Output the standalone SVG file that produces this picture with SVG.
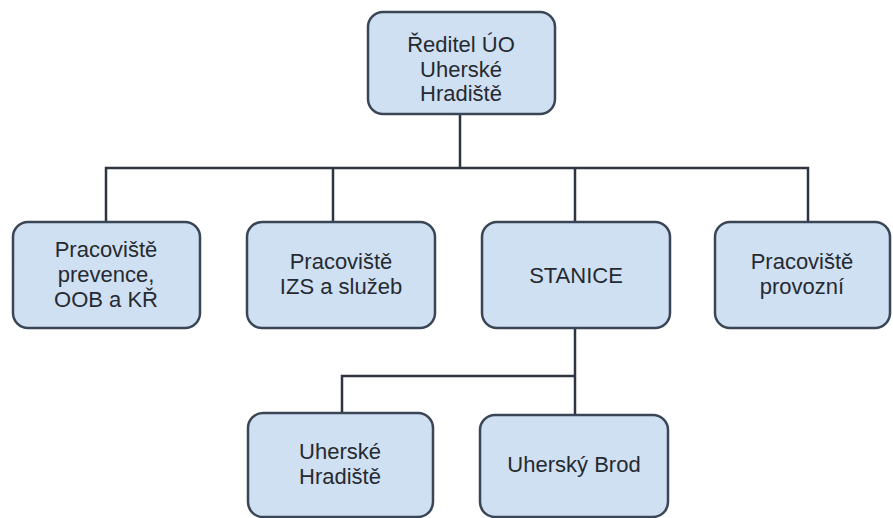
<svg xmlns="http://www.w3.org/2000/svg" width="893" height="518" viewBox="0 0 893 518">
<style>
.box{fill:#cfe0f3;stroke:#3a4656;stroke-width:2.5}
.lbl{font-family:"Liberation Sans",Arial,sans-serif;font-size:22px;fill:#262a30;text-anchor:middle}
.con{fill:none;stroke:#2e3540;stroke-width:2.5}
</style>
<rect width="893" height="518" fill="#ffffff"/>
<g id="connectors">
<path class="con" d="M460 114 V168 M106 222 V168 H808 V222 M333 168 V222 M575 168 V222 M575 328 V415 M575 376 H342 V413"/>
</g>
<g id="reditel">
<rect class="box" x="368" y="12" width="187" height="102" rx="15"/>
<text class="lbl" x="461" y="52">Ředitel ÚO</text>
<text class="lbl" x="461" y="77">Uherské</text>
<text class="lbl" x="461" y="101">Hradiště</text>
</g>
<g id="prevence">
<rect class="box" x="13" y="222" width="187" height="106" rx="15"/>
<text class="lbl" x="106" y="257">Pracoviště</text>
<text class="lbl" x="106" y="282">prevence,</text>
<text class="lbl" x="106" y="307">OOB a KŘ</text>
</g>
<g id="izs">
<rect class="box" x="247" y="222" width="188" height="106" rx="15"/>
<text class="lbl" x="341" y="269">Pracoviště</text>
<text class="lbl" x="341" y="294">IZS a služeb</text>
</g>
<g id="stanice">
<rect class="box" x="482" y="222" width="188" height="106" rx="15"/>
<text class="lbl" x="576" y="283">STANICE</text>
</g>
<g id="provozni">
<rect class="box" x="715" y="222" width="175" height="106" rx="15"/>
<text class="lbl" x="802" y="269">Pracoviště</text>
<text class="lbl" x="802" y="294">provozní</text>
</g>
<g id="uh">
<rect class="box" x="248" y="413" width="185" height="104" rx="15"/>
<text class="lbl" x="340" y="459">Uherské</text>
<text class="lbl" x="340" y="484">Hradiště</text>
</g>
<g id="ub">
<rect class="box" x="480" y="415" width="188" height="102" rx="15"/>
<text class="lbl" x="574" y="472">Uherský Brod</text>
</g>
</svg>
